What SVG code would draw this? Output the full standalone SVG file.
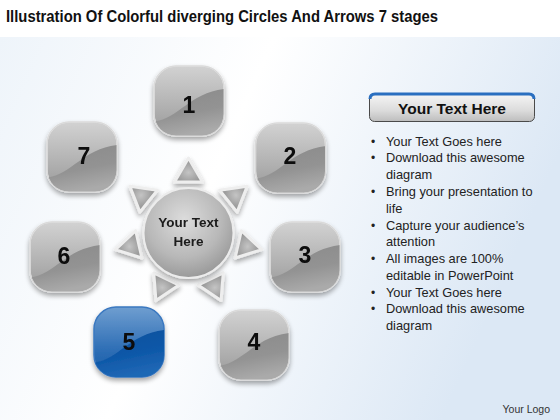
<svg xmlns="http://www.w3.org/2000/svg" width="560" height="420" viewBox="0 0 560 420">
<defs>
<linearGradient id="bg" x1="0" y1="0" x2="1" y2="0.3">
<stop offset="0" stop-color="#eef4fa"/>
<stop offset="0.45" stop-color="#ffffff"/>
<stop offset="1" stop-color="#dce8f5"/>
</linearGradient>
<linearGradient id="grayTop" x1="0" y1="0" x2="0" y2="1">
<stop offset="0" stop-color="#d2d2d2"/>
<stop offset="0.6" stop-color="#b0b0b0"/>
<stop offset="1" stop-color="#989898"/>
</linearGradient>
<linearGradient id="grayLow" x1="0" y1="0" x2="0.3" y2="1">
<stop offset="0" stop-color="#8a8a8a"/>
<stop offset="0.6" stop-color="#939393"/>
<stop offset="1" stop-color="#aaaaaa"/>
</linearGradient>
<linearGradient id="blueTop" x1="0" y1="0" x2="0" y2="1">
<stop offset="0" stop-color="#6f9ed0"/>
<stop offset="0.6" stop-color="#2f6fb6"/>
<stop offset="1" stop-color="#175aa5"/>
</linearGradient>
<linearGradient id="blueLow" x1="0" y1="0" x2="0.3" y2="1">
<stop offset="0" stop-color="#0b4f9c"/>
<stop offset="0.6" stop-color="#0e58a8"/>
<stop offset="1" stop-color="#1f67b5"/>
</linearGradient>
<radialGradient id="circ" cx="0.45" cy="0.35" r="0.7">
<stop offset="0" stop-color="#dcdcdc"/>
<stop offset="0.6" stop-color="#b8b8b8"/>
<stop offset="1" stop-color="#939393"/>
</radialGradient>
<radialGradient id="tri" cx="0.5" cy="0.6" r="0.6">
<stop offset="0" stop-color="#c4c4c4"/>
<stop offset="1" stop-color="#8c8c8c"/>
</radialGradient>
<linearGradient id="bar" x1="0" y1="0" x2="0" y2="1">
<stop offset="0" stop-color="#f6f6f6"/>
<stop offset="0.6" stop-color="#dcdcdc"/>
<stop offset="1" stop-color="#bdbdbd"/>
</linearGradient>
<filter id="sh" x="-30%" y="-30%" width="160%" height="170%">
<feGaussianBlur in="SourceAlpha" stdDeviation="2.5"/>
<feOffset dy="3" result="b"/>
<feComponentTransfer><feFuncA type="linear" slope="0.35"/></feComponentTransfer>
<feMerge><feMergeNode/><feMergeNode in="SourceGraphic"/></feMerge>
</filter>
<clipPath id="sq"><rect x="-35" y="-35" width="70" height="70" rx="22"/></clipPath>
<g id="grayBox">
<rect x="-35" y="-35" width="70" height="70" rx="22" fill="url(#grayTop)" stroke="#e4e4e4" stroke-width="1.5"/>
<path clip-path="url(#sq)" d="M -36 21 C -10 18, 0 -8, 36 -12 L 36 36 L -36 36 Z" fill="url(#grayLow)"/>
<rect x="-35" y="-35" width="70" height="70" rx="22" fill="none" stroke="#d8d8d8" stroke-width="1"/>
</g>
<g id="blueBox">
<rect x="-35" y="-35" width="70" height="70" rx="22" fill="url(#blueTop)" stroke="#3a78c0" stroke-width="1.5"/>
<path clip-path="url(#sq)" d="M -36 21 C -10 18, 0 -8, 36 -12 L 36 36 L -36 36 Z" fill="url(#blueLow)"/>
</g>
<path id="arrow" d="M 0 -75 L 14 -51 L -14 -51 Z" fill="url(#tri)" stroke="#eeeeee" stroke-width="3" stroke-linejoin="round"/>
<style>
.num{font-family:"Liberation Sans",Arial,sans-serif;font-weight:bold;font-size:23px;fill:#0a0a0a;text-anchor:middle}
.bl{font-family:"Liberation Sans",Arial,sans-serif;font-size:12.8px;fill:#222}
.dot{font-family:"Liberation Sans",Arial,sans-serif;font-size:12px;fill:#222}
</style>
</defs>

<rect width="560" height="420" fill="#ffffff"/>
<rect y="37" width="560" height="383" fill="url(#bg)"/>

<text x="6" y="22" font-family="'Liberation Sans',Arial,sans-serif" font-weight="bold" font-size="17" fill="#111" textLength="432" lengthAdjust="spacingAndGlyphs">Illustration Of Colorful diverging Circles And Arrows 7 stages</text>

<g id="connectors" filter="url(#sh)">
<use href="#arrow" transform="translate(188.5,233) rotate(0)"/>
<use href="#arrow" transform="translate(188.5,233) rotate(51.43)"/>
<use href="#arrow" transform="translate(188.5,233) rotate(102.86)"/>
<use href="#arrow" transform="translate(188.5,233) rotate(154.29)"/>
<use href="#arrow" transform="translate(188.5,233) rotate(205.71)"/>
<use href="#arrow" transform="translate(188.5,233) rotate(257.14)"/>
<use href="#arrow" transform="translate(188.5,233) rotate(308.57)"/>
</g>

<g id="center" filter="url(#sh)">
<circle cx="188.5" cy="233" r="45" fill="url(#circ)" stroke="#ececec" stroke-width="2"/>
<text x="188.5" y="227" font-family="'Liberation Sans',Arial,sans-serif" font-weight="bold" font-size="13.5" fill="#1a1a1a" text-anchor="middle">Your Text</text>
<text x="188.5" y="246" font-family="'Liberation Sans',Arial,sans-serif" font-weight="bold" font-size="13.5" fill="#1a1a1a" text-anchor="middle">Here</text>
</g>

<g id="node1" filter="url(#sh)"><use href="#grayBox" transform="translate(189,101)"/><text class="num" x="189" y="113">1</text></g>
<g id="node2" filter="url(#sh)"><use href="#grayBox" transform="translate(290.5,158)"/><text class="num" x="290" y="164">2</text></g>
<g id="node3" filter="url(#sh)"><use href="#grayBox" transform="translate(305,257)"/><text class="num" x="305" y="263">3</text></g>
<g id="node4" filter="url(#sh)"><use href="#grayBox" transform="translate(254,345)"/><text class="num" x="254" y="350">4</text></g>
<g id="node5" filter="url(#sh)"><use href="#blueBox" transform="translate(129,342)"/><text class="num" x="129" y="350">5</text></g>
<g id="node6" filter="url(#sh)"><use href="#grayBox" transform="translate(65,257)"/><text class="num" x="64" y="264">6</text></g>
<g id="node7" filter="url(#sh)"><use href="#grayBox" transform="translate(82,157)"/><text class="num" x="84" y="164">7</text></g>

<g id="header">
<rect x="369.5" y="93.5" width="165" height="28" rx="5" fill="url(#bar)" stroke="#4a4a4a" stroke-width="1"/>
<path d="M 370 99 Q 370 94 375 94 L 529 94 Q 534 94 534 99" fill="none" stroke="#2a6fc0" stroke-width="3"/>
<text x="452" y="114" font-family="'Liberation Sans',Arial,sans-serif" font-weight="bold" font-size="15.5" fill="#111" text-anchor="middle">Your Text Here</text>
</g>

<g id="bullets">
<text class="dot" x="371" y="146">•</text><text class="bl" x="386" y="146">Your Text Goes here</text>
<text class="dot" x="371" y="162">•</text><text class="bl" x="386" y="162">Download this awesome</text>
<text class="bl" x="386" y="179">diagram</text>
<text class="dot" x="371" y="196">•</text><text class="bl" x="386" y="196">Bring your presentation to</text>
<text class="bl" x="386" y="213">life</text>
<text class="dot" x="371" y="230">•</text><text class="bl" x="386" y="230">Capture your audience’s</text>
<text class="bl" x="386" y="246">attention</text>
<text class="dot" x="371" y="263">•</text><text class="bl" x="386" y="263">All images are 100%</text>
<text class="bl" x="386" y="280">editable in PowerPoint</text>
<text class="dot" x="371" y="297">•</text><text class="bl" x="386" y="297">Your Text Goes here</text>
<text class="dot" x="371" y="313">•</text><text class="bl" x="386" y="313">Download this awesome</text>
<text class="bl" x="386" y="330">diagram</text>
</g>

<text x="550" y="413" font-family="'Liberation Sans',Arial,sans-serif" font-size="10.5" fill="#333" text-anchor="end">Your Logo</text>
</svg>
